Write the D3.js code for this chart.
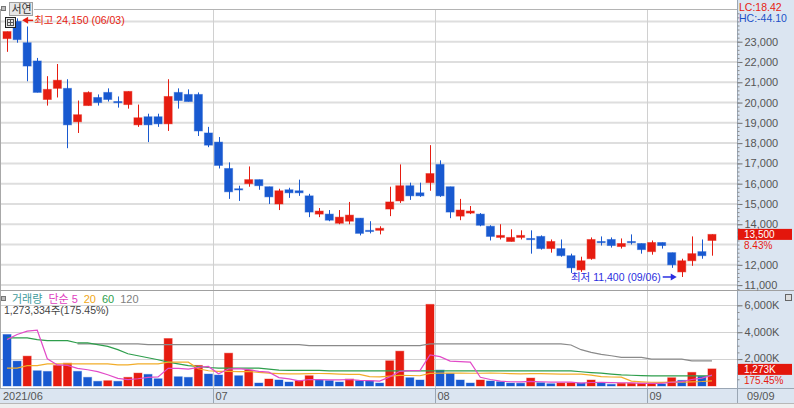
<!DOCTYPE html>
<html><head><meta charset="utf-8">
<script src="https://cdn.jsdelivr.net/npm/d3@7"></script>
<style>html,body{margin:0;padding:0;background:#fff;overflow:hidden}</style>
</head><body><svg id="c" width="794" height="408"></svg>
<script>
// ---------------- DATA ----------------
const dates = ["2021-06-02","2021-06-03","2021-06-04","2021-06-07","2021-06-08","2021-06-09","2021-06-10","2021-06-11","2021-06-14","2021-06-15","2021-06-16","2021-06-17","2021-06-18","2021-06-21","2021-06-22","2021-06-23","2021-06-24","2021-06-25","2021-06-28","2021-06-29","2021-06-30",
"2021-07-01","2021-07-02","2021-07-05","2021-07-06","2021-07-07","2021-07-08","2021-07-09","2021-07-12","2021-07-13","2021-07-14","2021-07-15","2021-07-16","2021-07-19","2021-07-20","2021-07-21","2021-07-22","2021-07-23","2021-07-26","2021-07-27","2021-07-28","2021-07-29","2021-07-30",
"2021-08-02","2021-08-03","2021-08-04","2021-08-05","2021-08-06","2021-08-09","2021-08-10","2021-08-11","2021-08-12","2021-08-13","2021-08-17","2021-08-18","2021-08-19","2021-08-20","2021-08-23","2021-08-24","2021-08-25","2021-08-26","2021-08-27","2021-08-30","2021-08-31",
"2021-09-01","2021-09-02","2021-09-03","2021-09-06","2021-09-07","2021-09-08","2021-09-09"];

const open = [23150,24000,22950,22050,20150,20700,20700,19050,19850,20250,20500,20050,19900,18900,19300,19300,18950,20500,20400,20400,18500,
18050,16750,15750,16000,16200,15850,15000,15700,15650,15400,14500,14500,14050,14150,14300,13700,13700,14750,15150,15900,15550,16050,
16950,15850,14400,14550,14500,13900,13350,13150,13350,13300,13400,12800,12800,12450,11750,12300,13150,13250,12900,13150,13050,
12650,13100,12600,11650,12200,12650,13200];
const high = [23500,24150,23750,22200,21300,21900,21150,20100,20550,20400,20700,20300,20550,19900,19450,19450,21150,20700,20650,20500,18800,
18300,17050,15900,16850,16200,15850,15750,15800,16200,15500,14800,14700,14700,15100,14300,14150,13900,15850,16950,16050,16050,17900,
17150,15850,15250,14900,14550,13950,14000,13750,13700,13700,13450,13250,13250,12550,12400,13350,13400,13350,13300,13500,13050,
13200,13100,12600,12300,13400,13250,13500];
const low = [22500,22950,21050,20500,19850,20250,17750,18500,19850,19850,20050,19750,19700,18800,18050,18800,18600,19700,20050,18350,17800,
16750,15250,15150,15850,15700,15000,14700,15300,15400,14350,14350,14150,14000,14000,13450,13550,13500,14400,15050,15200,15350,15650,
15350,14300,14200,14500,13900,13200,13250,13150,13250,12550,12750,12600,12400,11600,11650,12250,12950,12850,12800,13000,12550,
12500,12800,11850,11400,11950,12300,12450];
const close = [23500,23100,21800,20500,20650,21100,18900,19400,20500,20000,20150,20050,20550,19250,18900,18950,20300,20100,20050,18600,17900,
16900,15600,15750,16200,15900,15350,15650,15550,15550,14600,14650,14200,14350,14450,13550,13700,13800,15100,15900,15400,15400,16500,
15400,14600,14700,14650,13950,13400,13450,13350,13450,13300,12800,13150,12450,11850,12200,13250,13150,12950,13050,13100,12750,
13100,12950,12000,12200,12550,12450,13500];

// volume in thousands of shares
const volume = [3830,1850,2220,1135,1085,1530,1700,1090,645,350,395,350,645,960,865,540,3530,690,645,1530,890,
815,2440,765,1185,220,520,445,295,395,765,445,400,295,520,395,380,220,1875,2590,615,445,6070,
1185,940,445,220,445,370,320,220,210,590,245,170,220,240,225,445,220,125,200,205,210,
220,150,615,420,1015,725.75,1273.334];

const ma5 = [3450,3825,4075,4150,2024,1564,1534,1308,1210,1063,836,566,477,540,643,672,1308,1317,1254,1387,1457,
914,1264,1288,1219,1085,1026,627,533,375,484,469,460,460,485,411,398,362,678,1092,1136,1149,2319,
2181,1851,1817,1772,647,484,360,315,313,342,317,287,287,293,220,260,270,251,243,239,192,
192,197,280,323,484,584,809];
const ma20 = [1330,1330,1520,1520,1650,1650,1650,1650,1650,1650,1650,1575,1575,1650,1650,1650,1775,1775,1775,1279,1132,
1081,1092,1073,1078,1013,954,921,904,906,925,929,917,884,867,859,702,678,740,793,779,761,942,
963,951,962,947,947,951,947,920,908,918,915,898,889,882,882,811,692,668,655,362,313,
277,263,282,281,313,333,386];
const ma60 = [3575,3575,3575,3450,3375,3375,3375,3200,3200,3075,2950,2700,2400,2250,2100,1950,1780,1650,1520,1450,1375,
1325,1325,1325,1325,1325,1250,1185,1160,1160,1160,1160,1130,1130,1130,1130,1130,1130,1130,1130,1130,1130,1130,
1130,1130,1120,1120,1120,1120,1120,1120,1120,1120,1120,1120,1120,1120,1060,1000,950,880,825,800,770,
750,750,750,750,750,750,750];
const ma120 = [null,null,null,null,null,null,null,3125,3125,3125,3125,3125,3125,3125,3075,3075,3075,3075,3075,3075,3075,
3075,3075,3075,3075,3075,3075,3075,3075,3075,3000,3000,3000,3000,3000,3000,3000,3000,3000,3000,3000,3000,3125,
3125,3125,3125,3125,3125,3125,3125,3125,3125,3125,3125,3125,3125,3050,2700,2500,2350,2250,2125,2125,2125,
2000,2000,2000,2000,1875,1875,1875];

const priceTickLabels = [11000,12000,14000,15000,16000,17000,18000,19000,20000,21000,22000,23000];
const volTickLabels = [2000,4000,6000];
const monthStarts = ["2021-06-02","2021-07-01","2021-08-02","2021-09-01"];
const monthLabels = ["2021/06","07","08","09"];
const lastDateLabel = "09/09";
const stockName = "서연";
const lcText = "LC:18.42", hcText = "HC:-44.10";
const volLegend = [["거래량","#3f9c9c"],["단순","#e040c0"],["5","#e040c0"],["20","#f0a818"],["60","#2e9e4c"],["120","#808080"]];
const volInfo = "1,273,334주(175.45%)";

// ---------------- DRAW ----------------
const RED="#e61c10", BLUE="#1859d0";
const F="'Liberation Sans','Noto Sans CJK KR',sans-serif";
const svg=d3.select("#c");
const fmt=d3.format(",");

svg.append("rect").attr("width",794).attr("height",408).attr("fill","#fff");
svg.append("rect").attr("x",737).attr("y",0).attr("width",57).attr("height",388).attr("fill","#dbe5f1");
svg.append("rect").attr("x",0).attr("y",388).attr("width",794).attr("height",15).attr("fill","#dbe5f1");
svg.append("rect").attr("x",0).attr("y",403).attr("width",794).attr("height",5).attr("fill","#efefef");

const x=d3.scaleBand().domain(dates).range([2,717]).paddingInner(0.2).paddingOuter(0.1);
const bw=x.bandwidth(), step=x.step();
const cx=d=>x(d)+bw/2;
const yP=d3.scaleLinear().domain([11000,23000]).range([285.1,41.7]);
const yV=d3.scaleLinear().domain([0,6000]).range([386,305.3]);

// gridlines
const gP=svg.append("g");
const pTop=yP.invert(10), pBot=yP.invert(290);
d3.range(Math.ceil(pBot/1000)*1000, pTop, 1000).forEach(p=>{
  gP.append("line").attr("x1",1).attr("x2",737).attr("y1",yP(p)).attr("y2",yP(p))
    .attr("stroke","#dedede").attr("stroke-width",2);
});
volTickLabels.forEach(v=>{
  gP.append("line").attr("x1",1).attr("x2",737).attr("y1",Math.round(yV(v))+0.5).attr("y2",Math.round(yV(v))+0.5)
    .attr("stroke","#d2d2d2").attr("stroke-width",1);
});
const bounds=monthStarts.map(d=>Math.round(x(d)-step*0.1)+0.5);
bounds.slice(1).forEach(bx=>{
  gP.append("line").attr("x1",bx).attr("x2",bx).attr("y1",10).attr("y2",388).attr("stroke","#d0d0d0");
  gP.append("line").attr("x1",bx).attr("x2",bx).attr("y1",388).attr("y2",403).attr("stroke","#9aa6b4");
});

// borders
const gB=svg.append("g").attr("shape-rendering","crispEdges");
gB.append("line").attr("x1",34).attr("x2",737).attr("y1",9.5).attr("y2",9.5).attr("stroke","#b4b4b4");
gB.append("line").attr("x1",0.5).attr("x2",0.5).attr("y1",9).attr("y2",388).attr("stroke","#a8a8a8");
gB.append("line").attr("x1",737.5).attr("x2",737.5).attr("y1",0).attr("y2",403).attr("stroke","#9aa6b4");
gB.append("line").attr("x1",0).attr("x2",794).attr("y1",290.5).attr("y2",290.5).attr("stroke","#a0a0a0");
gB.append("line").attr("x1",0).attr("x2",794).attr("y1",388.5).attr("y2",388.5).attr("stroke","#9aa6b4");
gB.append("line").attr("x1",0).attr("x2",794).attr("y1",403.5).attr("y2",403.5).attr("stroke","#b8b8b8");

// candles
const gC=svg.append("g");
dates.forEach((d,i)=>{
  const up=close[i]>open[i], col=up?RED:BLUE;
  const xm=Math.round(cx(d))+0.5;
  gC.append("line").attr("x1",xm).attr("x2",xm).attr("y1",yP(high[i])).attr("y2",yP(low[i]))
    .attr("stroke",col).attr("stroke-width",1);
  const t=yP(Math.max(open[i],close[i])), b=yP(Math.min(open[i],close[i]));
  gC.append("rect").attr("x",x(d)).attr("width",bw).attr("y",t).attr("height",Math.max(1.2,b-t))
    .attr("fill",col).attr("stroke",col).attr("stroke-opacity",0.45).attr("stroke-width",1);
});

// volume bars
const gVb=svg.append("g");
dates.forEach((d,i)=>{
  const up=i===0?false:volume[i]>volume[i-1], col=up?RED:BLUE;
  gVb.append("rect").attr("x",x(d)).attr("width",bw).attr("y",yV(volume[i])).attr("height",yV(0)-yV(volume[i]))
    .attr("fill",col).attr("stroke",col).attr("stroke-opacity",0.4).attr("stroke-width",1);
});

// moving averages
const line=d3.line().defined(v=>v!=null).x((v,i)=>cx(dates[i])).y(v=>yV(v)).curve(d3.curveLinear);
[[ma120,"#8a8a8a"],[ma60,"#2e9e4c"],[ma20,"#f2ad2a"],[ma5,"#e24bc8"]].forEach(([arr,c])=>{
  svg.append("path").attr("d",line(arr)).attr("fill","none").attr("stroke",c).attr("stroke-width",1.2);
});

// right price axis
const axP=d3.axisRight(yP).tickValues(priceTickLabels).tickSize(5).tickPadding(2).tickFormat(fmt);
const gax=svg.append("g").attr("transform","translate(737.5,0)").call(axP);
gax.select(".domain").remove();
gax.selectAll("line").attr("stroke","#707070");
gax.selectAll("text").attr("font-family",F).attr("font-size",11).attr("fill","#555");
const minorP=d3.range(Math.ceil(pBot/200)*200, pTop, 200);
const gmin=svg.append("g").attr("transform","translate(737.5,0)").call(d3.axisRight(yP).tickValues(minorP).tickSize(2).tickFormat(""));
gmin.select(".domain").remove(); gmin.selectAll("line").attr("stroke","#8a8a8a");

// right volume axis
const axV=d3.axisRight(yV).tickValues(volTickLabels).tickSize(5).tickPadding(2).tickFormat(v=>fmt(v)+"K");
const gav=svg.append("g").attr("transform","translate(737.5,0)").call(axV);
gav.select(".domain").remove();
gav.selectAll("line").attr("stroke","#707070");
gav.selectAll("text").attr("font-family",F).attr("font-size",11).attr("fill","#555");
gav.selectAll(".tick").filter(v=>v===2000).select("text").attr("dy","0.2em");
const gminv=svg.append("g").attr("transform","translate(737.5,0)").call(d3.axisRight(yV).tickValues(d3.range(500,6500,500)).tickSize(2).tickFormat(""));
gminv.select(".domain").remove(); gminv.selectAll("line").attr("stroke","#8a8a8a");

// current price tag
const last=close.length-1;
const chg=(close[last]-close[last-1])/close[last-1]*100;
const yc=yP(close[last]);
svg.append("rect").attr("x",738).attr("y",yc-5.5).attr("width",54).attr("height",11).attr("fill","#e3160c");
svg.append("text").attr("x",744).attr("y",yc+3.5).text(fmt(close[last])).attr("font-family",F).attr("font-size",10).attr("fill","#fff");
svg.append("text").attr("x",744).attr("y",yc+15).text(chg.toFixed(2)+"%").attr("font-family",F).attr("font-size",10).attr("fill",RED);
// current volume tag
const yvc=yV(volume[last]);
const vchg=volume[last]/volume[last-1]*100;
svg.append("rect").attr("x",738).attr("y",yvc-5).attr("width",54).attr("height",11).attr("fill","#e3160c");
svg.append("text").attr("x",744).attr("y",yvc+4).text(fmt(Math.round(volume[last]))+"K").attr("font-family",F).attr("font-size",10).attr("fill","#fff");
svg.append("text").attr("x",744).attr("y",yvc+15).text(vchg.toFixed(2)+"%").attr("font-family",F).attr("font-size",10).attr("fill",RED);

// LC / HC
svg.append("text").attr("x",739).attr("y",11).text(lcText).attr("font-family",F).attr("font-size",10.5).attr("fill",RED);
svg.append("text").attr("x",739).attr("y",22).text(hcText).attr("font-family",F).attr("font-size",10.5).attr("fill","#1c50c8");

// high / low markers
const hi=d3.maxIndex(high), lo=d3.minIndex(low);
const md=d=>d.slice(5,7)+"/"+d.slice(8,10);
const hy=yP(high[hi])+2, htip=cx(dates[hi])+bw/2+1;
svg.append("path").attr("d",`M${htip},${hy}L${htip+6},${hy-3.5}L${htip+6},${hy+3.5}Z`).attr("fill",RED);
svg.append("line").attr("x1",htip+5).attr("x2",htip+11).attr("y1",hy).attr("y2",hy).attr("stroke",RED).attr("stroke-width",1.5);
svg.append("text").attr("x",htip+12).attr("y",hy+4).text(`최고 ${fmt(high[hi])} (${md(dates[hi])})`)
  .attr("font-family",F).attr("font-size",10.5).attr("fill",RED);
const ly=yP(low[lo]), ltip=cx(dates[lo])-bw/2-1;
svg.append("path").attr("d",`M${ltip},${ly}L${ltip-6},${ly-3.5}L${ltip-6},${ly+3.5}Z`).attr("fill","#2a2ee0");
svg.append("line").attr("x1",ltip-14).attr("x2",ltip-5).attr("y1",ly).attr("y2",ly).attr("stroke","#2a2ee0").attr("stroke-width",1.5);
svg.append("text").attr("x",ltip-16).attr("y",ly+4).attr("text-anchor","end").text(`최저 ${fmt(low[lo])} (${md(dates[lo])})`)
  .attr("font-family",F).attr("font-size",10.5).attr("fill","#2a2ee0");

// top-left controls
svg.append("rect").attr("x",1.5).attr("y",6.5).attr("width",4).attr("height",4).attr("fill","#bbb").attr("stroke","#777");
svg.append("rect").attr("x",9.5).attr("y",2.5).attr("width",23).attr("height",13).attr("fill","#e6e6e6").attr("stroke","#a0a0a0");
svg.append("text").attr("x",11.5).attr("y",13).text(stockName).attr("font-family",F).attr("font-size",11).attr("fill","#333");
const ic=svg.append("g").attr("shape-rendering","crispEdges");
ic.append("rect").attr("x",5.5).attr("y",17.5).attr("width",10).attr("height",10).attr("fill","#e8e8e8").attr("stroke","#222");
ic.append("rect").attr("x",7.5).attr("y",19.5).attr("width",6).attr("height",6).attr("fill","none").attr("stroke","#555");
ic.append("line").attr("x1",10.5).attr("x2",10.5).attr("y1",19.5).attr("y2",25.5).attr("stroke","#555");
ic.append("line").attr("x1",7.5).attr("x2",13.5).attr("y1",22.5).attr("y2",22.5).attr("stroke","#555");

// volume legend
svg.append("rect").attr("x",1.5).attr("y",296.5).attr("width",4).attr("height",4).attr("fill","#bbb").attr("stroke","#777");
const lg=svg.append("text").attr("x",12).attr("y",303).attr("font-family",F).attr("font-size",11);
volLegend.forEach(([t,c],i)=>{
  lg.append("tspan").attr("dx",i===0?0:(i===2?3:6)).attr("fill",c).text(t);
});
svg.append("text").attr("x",4).attr("y",314).text(volInfo).attr("font-family",F).attr("font-size",10.5).attr("fill","#444");
// small icon top-right of volume panel
svg.append("rect").attr("x",785.5).attr("y",294.5).attr("width",6).attr("height",6).attr("fill","#ddd").attr("stroke","#666");

// date axis labels
monthLabels.forEach((t,i)=>{
  svg.append("text").attr("x",i===0?3:bounds[i]+2).attr("y",399.5).text(t)
    .attr("font-family",F).attr("font-size",11).attr("fill","#555");
});
svg.append("text").attr("x",747).attr("y",399.5).text(lastDateLabel).attr("font-family",F).attr("font-size",11).attr("fill","#555");
</script></body></html>
